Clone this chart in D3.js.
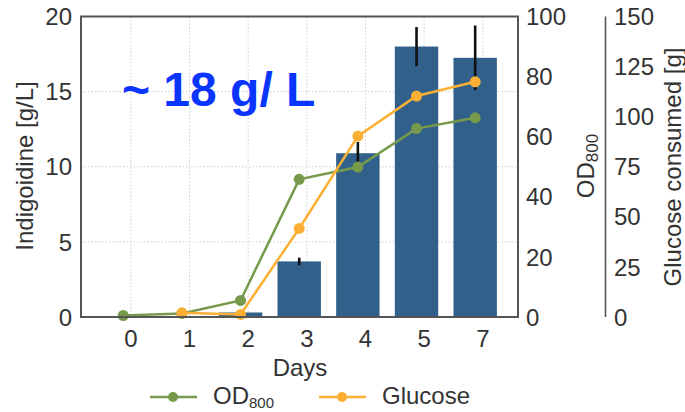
<!DOCTYPE html>
<html>
<head>
<meta charset="utf-8">
<script src="https://cdn.jsdelivr.net/npm/d3@7"></script>
<style>
  body { margin: 0; background: #fff; }
  svg { font-family: "Liberation Sans", Arial, sans-serif; }
  .tick-label { fill: #333; font-size: 24px; }
  .axis-label { fill: #333; font-size: 24px; }
</style>
</head>
<body>
<div id="chart"></div>
<script>
// values
var days = ["0", "1", "2", "3", "4", "5", "7"];
var indigoidine = [0, 0, 0.3, 3.7, 10.9, 18.0, 17.25];
var indigoidineErr = [0, 0, 0, 0.25, 0.75, 1.3, 2.15];
var od800 = [0.5, 1.2, 5.5, 45.8, 49.9, 62.7, 66.3];
var glucose = [null, 2.1, 1.3, 44.2, 90.3, 110.3, 117.4];
var leftTicks = [0, 5, 10, 15, 20];
var odTicks = [0, 20, 40, 60, 80, 100];
var glucoseTicks = [0, 25, 50, 75, 100, 125, 150];

var width = 685, height = 412;
var plot = {left: 81, right: 518, top: 16.5, bottom: 317};

var colors = {bar: "#31618a", od: "#76994b", glucose: "#fbb034", frame: "#555", grid: "#cfcfcf"};

var svg = d3.select("#chart").append("svg")
    .attr("width", width)
    .attr("height", height);

// grid/tick positions and data positions are slightly offset in the original
var xAxis = d3.scaleLinear().domain([-0.85, 6.6]).range([plot.left, plot.right]);
var x = d3.scaleLinear().domain([-0.72, 6.73]).range([plot.left, plot.right]);
var y = d3.scaleLinear().domain([0, 20]).range([plot.bottom, plot.top]);
var yOD = d3.scaleLinear().domain([0, 100]).range([plot.bottom, plot.top]);
var yGlu = d3.scaleLinear().domain([0, 150]).range([plot.bottom, plot.top]);
var barWidth = x(0.74) - x(0);

// grid
var grid = svg.append("g").attr("class", "grid")
    .attr("stroke", colors.grid)
    .attr("stroke-width", 1)
    .attr("stroke-dasharray", "1.5,2");

grid.selectAll(".vgrid")
    .data(days)
  .enter().append("line")
    .attr("x1", function(d, i) { return xAxis(i); })
    .attr("x2", function(d, i) { return xAxis(i); })
    .attr("y1", plot.top)
    .attr("y2", plot.bottom);

grid.selectAll(".hgrid")
    .data(leftTicks.slice(1, -1))
  .enter().append("line")
    .attr("x1", plot.left)
    .attr("x2", plot.right)
    .attr("y1", function(d) { return y(d); })
    .attr("y2", function(d) { return y(d); });

// bars
svg.append("g").selectAll("rect")
    .data(indigoidine)
  .enter().append("rect")
    .attr("x", function(d, i) { return x(i) - barWidth / 2; })
    .attr("y", function(d) { return y(d); })
    .attr("width", barWidth)
    .attr("height", function(d) { return plot.bottom - y(d); })
    .attr("fill", colors.bar);

// error bars
svg.append("g").selectAll("line")
    .data(indigoidine.map(function(d, i) { return {i: i, v: d, e: indigoidineErr[i]}; })
      .filter(function(d) { return d.e > 0; }))
  .enter().append("line")
    .attr("x1", function(d) { return x(d.i); })
    .attr("x2", function(d) { return x(d.i); })
    .attr("y1", function(d) { return y(d.v - d.e); })
    .attr("y2", function(d) { return y(d.v + d.e); })
    .attr("stroke", "#111")
    .attr("stroke-width", 2.6);

// lines
function drawSeries(values, scale, color) {
  var pts = values.map(function(v, i) { return {i: i, v: v}; })
    .filter(function(d) { return d.v !== null; });
  var line = d3.line()
      .x(function(d) { return x(d.i); })
      .y(function(d) { return scale(d.v); });
  var g = svg.append("g");
  g.append("path")
      .datum(pts)
      .attr("d", line)
      .attr("fill", "none")
      .attr("stroke", color)
      .attr("stroke-width", 2.5);
  g.selectAll("circle")
      .data(pts)
    .enter().append("circle")
      .attr("cx", function(d) { return x(d.i); })
      .attr("cy", function(d) { return scale(d.v); })
      .attr("r", 5.5)
      .attr("fill", color);
}
drawSeries(od800, yOD, colors.od);
drawSeries(glucose, yGlu, colors.glucose);

// frame
svg.append("rect")
    .attr("x", plot.left)
    .attr("y", plot.top)
    .attr("width", plot.right - plot.left)
    .attr("height", plot.bottom - plot.top)
    .attr("fill", "none")
    .attr("stroke", colors.frame)
    .attr("stroke-width", 2);

// glucose axis spine
svg.append("line")
    .attr("x1", 605.5).attr("x2", 605.5)
    .attr("y1", yGlu(150)).attr("y2", yGlu(0))
    .attr("stroke", colors.frame)
    .attr("stroke-width", 1.6);

// tick labels
svg.append("g").selectAll("text")
    .data(leftTicks)
  .enter().append("text")
    .attr("class", "tick-label")
    .attr("x", 72)
    .attr("y", function(d) { return y(d); })
    .attr("dy", "0.36em")
    .attr("text-anchor", "end")
    .text(function(d) { return d; });

svg.append("g").selectAll("text")
    .data(odTicks)
  .enter().append("text")
    .attr("class", "tick-label")
    .attr("x", 526)
    .attr("y", function(d) { return yOD(d); })
    .attr("dy", "0.36em")
    .text(function(d) { return d; });

svg.append("g").selectAll("text")
    .data(glucoseTicks)
  .enter().append("text")
    .attr("class", "tick-label")
    .attr("x", 614)
    .attr("y", function(d) { return yGlu(d); })
    .attr("dy", "0.36em")
    .text(function(d) { return d; });

svg.append("g").selectAll("text")
    .data(days)
  .enter().append("text")
    .attr("class", "tick-label")
    .attr("x", function(d, i) { return xAxis(i); })
    .attr("y", 347)
    .attr("text-anchor", "middle")
    .text(function(d) { return d; });

// axis labels
svg.append("text")
    .attr("class", "axis-label")
    .attr("x", 300)
    .attr("y", 376)
    .attr("text-anchor", "middle")
    .text("Days");

svg.append("text")
    .attr("class", "axis-label")
    .attr("transform", "translate(33,166) rotate(-90)")
    .attr("text-anchor", "middle")
    .text("Indigoidine [g/L]");

var odLabel = svg.append("text")
    .attr("class", "axis-label")
    .attr("transform", "translate(594,166) rotate(-90)")
    .attr("text-anchor", "middle");
odLabel.append("tspan").text("OD");
odLabel.append("tspan").attr("font-size", "17px").attr("dy", 4).text("800");

svg.append("text")
    .attr("class", "axis-label")
    .attr("transform", "translate(681,167) rotate(-90)")
    .attr("text-anchor", "middle")
    .text("Glucose consumed [g]");

// annotation
svg.append("text")
    .attr("x", 122)
    .attr("y", 106)
    .attr("fill", "#0a35ff")
    .attr("font-size", "48px")
    .attr("font-weight", "bold")
    .text("~ 18 g/ L");

// legend
var legendItems = [
  {label: "OD", sub: "800", color: colors.od, x: 150},
  {label: "Glucose", sub: null, color: colors.glucose, x: 319}
];
var legend = svg.append("g").selectAll("g")
    .data(legendItems)
  .enter().append("g")
    .attr("transform", function(d) { return "translate(" + d.x + ",397)"; });
legend.append("line")
    .attr("x1", 0).attr("x2", 47)
    .attr("stroke", function(d) { return d.color; })
    .attr("stroke-width", 2.5);
legend.append("circle")
    .attr("cx", 23).attr("r", 5)
    .attr("fill", function(d) { return d.color; });
var legendText = legend.append("text")
    .attr("class", "axis-label")
    .attr("x", 63)
    .attr("y", 7)
    .attr("font-size", "22px");
legendText.append("tspan").text(function(d) { return d.label; });
legendText.filter(function(d) { return d.sub; })
  .append("tspan")
    .attr("font-size", "15px")
    .attr("dy", 4)
    .text(function(d) { return d.sub; });
</script>
</body>
</html>
